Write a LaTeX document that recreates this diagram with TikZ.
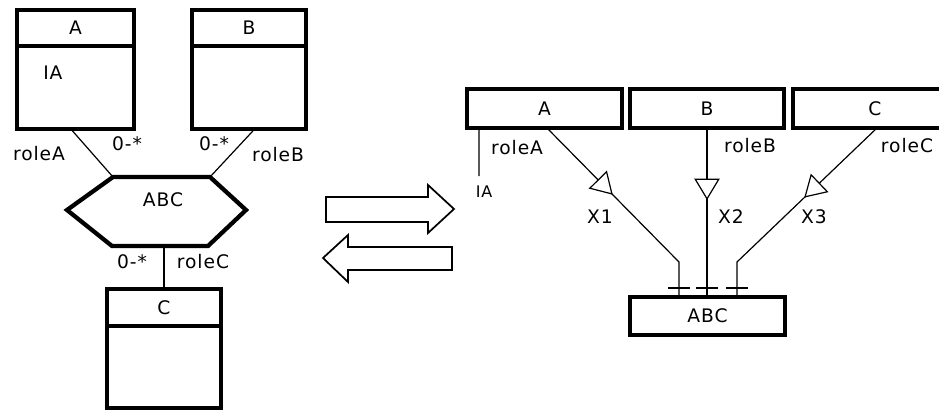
\documentclass[tikz,border=0pt]{standalone}
\usepackage{fontspec}
\setmainfont{DejaVu Sans}[LetterSpace=5]
\usetikzlibrary{arrows.meta,decorations.markings,calc}
\begin{document}
\begin{tikzpicture}[x=0.75pt,y=-0.75pt,
  font=\fontsize{14}{16}\selectfont,
  umlb/.style 2 args={draw, line width=2.6pt, inner sep=0pt, outer sep=0pt,
    minimum width=#1*0.75pt, minimum height=#2*0.75pt},
  hexline/.style={line width=3.2pt, line join=miter},
  conn/.style={line width=0.9pt},
  bigarrow/.style={line width=1.3pt, line join=miter},
  tickline/.style={line width=1.1pt},
  lbl/.style={inner sep=0pt},
  smalllbl/.style={inner sep=0pt, font=\fontsize{12}{13}\selectfont},
  midarrow/.style={postaction={decorate}, decoration={markings,
    mark=at position #1 with {\arrow{Triangle[length=16pt,width=19pt,fill=white,line width=0.9pt]}}}}
]
\useasboundingbox (0,0) rectangle (939,411);

% ---------- left diagram ----------
\node[umlb={117}{36}] (lAh) at (75.5,28) {A};
\node[umlb={117}{83}] (lAb) at (75.5,87.5) {};
\node[lbl, anchor=west] (lIA) at (43,73) {IA};
\node[umlb={114}{36}] (lBh) at (249,28) {B};
\node[umlb={114}{83}] (lBb) at (249,87.5) {};
\node[umlb={114}{37}] (lCh) at (164,307.5) {C};
\node[umlb={114}{82}] (lCb) at (164,367) {};

\coordinate (hL) at (67,210);
\coordinate (hTL) at (113,177);
\coordinate (hTR) at (210,177);
\coordinate (hR) at (246,210);
\coordinate (hBR) at (208,246);
\coordinate (hBL) at (112,246);
\coordinate (hB) at (164,246);
\draw[hexline] (hL) -- (hTL) -- (hTR) -- (hR) -- (hBR) -- (hBL) -- cycle;
\node[lbl] (hex) at (163,200) {ABC};

\draw[conn] ($(lAb.south west)!0.46!(lAb.south east)$) -- (hTL);
\draw[conn] ($(lBb.south west)!0.55!(lBb.south east)$) -- (hTR);
\draw[conn] (hB) -- (lCh.north);

\node[lbl] (lroleA) at (39,154) {roleA};
\node[lbl] (lmA) at (127,144) {0-*};
\node[lbl] (lmB) at (214,144) {0-*};
\node[lbl] (lroleB) at (278,155) {roleB};
\node[lbl] (lmC) at (132,262) {0-*};
\node[lbl] (lroleC) at (203,262) {roleC};

% ---------- transformation arrows ----------
\draw[bigarrow] (326,197) -- (428,197) -- (428,185) -- (454,209) -- (428,233) -- (428,222) -- (326,222) -- cycle;
\draw[bigarrow] (452,247) -- (348,247) -- (348,235) -- (323,258) -- (348,282) -- (348,270) -- (452,270) -- cycle;

% ---------- right diagram ----------
\node[umlb={155}{39}] (rA) at (544.5,108.5) {A};
\node[umlb={154}{39}] (rB) at (707,108.5) {B};
\node[umlb={164}{39}] (rC) at (875,108.5) {C};
\node[umlb={155}{38}] (rABC) at (707.5,316) {ABC};

\coordinate (iaEnd) at (479,176);
\draw[conn] ($(rA.south west)!0.077!(rA.south east)$) -- (iaEnd);
\node[smalllbl] (rIA) at (484,192) {IA};

\coordinate (x1k) at (679,262);
\coordinate (x3k) at (737,262);
\draw[conn, midarrow=0.42] ($(rA.south west)!0.516!(rA.south east)$) -- (x1k) -- (x1k |- rABC.north);
\draw[conn, midarrow=0.426] (rB.south) -- (rB.south |- rABC.north);
\draw[conn, midarrow=0.44] ($(rC.south west)!0.512!(rC.south east)$) -- (x3k) -- (x3k |- rABC.north);

\draw[tickline] ($(x1k |- rABC.north)+(-11,-9)$) -- ++(22,0);
\draw[tickline] ($(rB.south |- rABC.north)+(-11,-9)$) -- ++(22,0);
\draw[tickline] ($(x3k |- rABC.north)+(-11,-9)$) -- ++(22,0);

\node[lbl] (rroleA) at (517,148) {roleA};
\node[lbl] (rroleB) at (750,146) {roleB};
\node[lbl] (rroleC) at (907,146) {roleC};
\node[lbl] (rX1) at (600,217) {X1};
\node[lbl] (rX2) at (731,217) {X2};
\node[lbl] (rX3) at (814,217) {X3};
\end{tikzpicture}
\end{document}
